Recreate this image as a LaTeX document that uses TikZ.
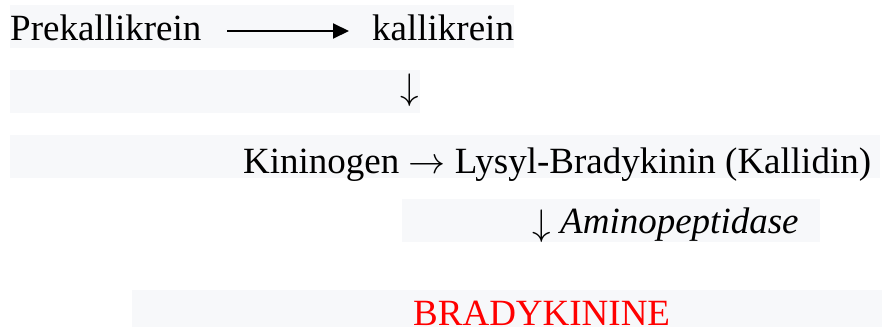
\RequirePackage{fix-cm}
\documentclass[tikz,border=0pt]{standalone}
\usepackage{fontspec}
\setmainfont{Liberation Serif}
\usetikzlibrary{arrows.meta}
\definecolor{bandgray}{HTML}{F7F8FA}
\tikzset{
  band/.style={fill=bandgray, draw=none},
  label/.style={anchor=base west, inner sep=0pt, font=\fontsize{37}{42}\selectfont},
  glyph/.style={anchor=base, inner sep=0pt, font=\fontsize{37}{42}\selectfont},
}
\begin{document}
\begin{tikzpicture}[x=1pt,y=-1pt]
  \useasboundingbox (0,0) rectangle (882,327);
  % shaded bands behind each row
  \fill[band] (10,5) rectangle (514,48);
  \fill[band] (10,70) rectangle (420,113);
  \fill[band] (10,135) rectangle (880,178);
  \fill[band] (402,199) rectangle (820,242);
  \fill[band] (132,290) rectangle (882,327);
  % row 1: prekallikrein to kallikrein
  \node[label] (pre) at (10,40) {Prekallikrein};
  \node[label] (kal) at (372,40) {kallikrein};
  \coordinate (a1) at (227,31);
  \coordinate (a2) at (349,31);
  \draw[line width=2pt, -{Triangle[length=16pt,width=15pt]}] (a1) -- (a2);
  % row 2
  \node[glyph] (d1) at (410,99) {$\downarrow$};
  % row 3
  \node[label] (kin) at (243,173) {Kininogen $\rightarrow$ Lysyl-Bradykinin (Kallidin)};
  % row 4
  \node[glyph] (d2) at (542,235) {$\downarrow$};
  \node[label] (amp) at (560,233) {\textit{Aminopeptidase}};
  % row 5
  \node[label, text=red] (bk) at (413,325) {BRADYKININE};
\end{tikzpicture}
\end{document}
